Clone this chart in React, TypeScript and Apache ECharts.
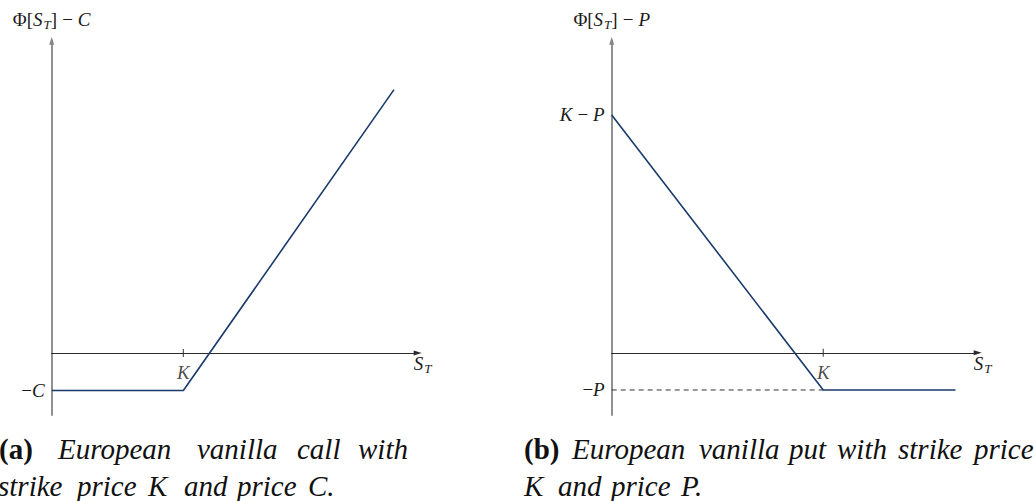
import { useEffect, useRef } from 'react';
import * as echarts from 'echarts';

const SERIF = 'Liberation Serif';
const INK = '#1a1a1a';
const NAVY = '#1b3a6c';

// Left panel: long European call, strike K and premium C
const callXRange = [0, 278];
const callYRange = [-33, 166];
const callStrike = [100];
const callLevels = [-20];
const callLevelLabels = ['{m|−}{i|C}'];
const callPayoff = [
  [0, -20],
  [100, -20],
  [260, 140],
];

// Right panel: long European put, strike K and premium P
const putXRange = [0, 173];
const putYRange = [-22.6, 113.5];
const putStrike = [100];
const putLevels = [86.5, -13.5];
const putLevelLabels = ['{i|K}{op|−}{i|P}', '{m|−}{i|P}'];
const putPayoff = [
  [0, 86.5],
  [100, -13.5],
  [162.5, -13.5],
];
const putPremiumGuide = [
  [0, -13.5],
  [100, -13.5],
];

const MATH_SIZE = 19;
const mathRich = {
  m: { fontFamily: SERIF, fontSize: MATH_SIZE, lineHeight: 22, color: INK },
  op: {
    fontFamily: SERIF,
    fontSize: MATH_SIZE,
    lineHeight: 22,
    color: INK,
    padding: [0, 5, 0, 5],
  },
  i: {
    fontFamily: SERIF,
    fontSize: MATH_SIZE,
    fontStyle: 'italic',
    lineHeight: 22,
    color: INK,
  },
  s: {
    fontFamily: SERIF,
    fontSize: 13,
    fontStyle: 'italic',
    lineHeight: 12,
    verticalAlign: 'bottom',
    color: INK,
    padding: [0, 0, 0, 1],
  },
};
const mathText = { fontFamily: SERIF, fontSize: MATH_SIZE, color: INK, rich: mathRich };

// caption words: [text, left x, row, bold]
const captionWords: [string, number, number, boolean][] = [
  ['(a)', -1, 0, true],
  ['European', 58, 0, false],
  ['vanilla', 197, 0, false],
  ['call', 297, 0, false],
  ['with', 358, 0, false],
  ['strike', -2, 1, false],
  ['price', 77, 1, false],
  ['K', 148, 1, false],
  ['and', 184, 1, false],
  ['price', 237, 1, false],
  ['C.', 308, 1, false],
  ['(b)', 524, 0, true],
  ['European', 572, 0, false],
  ['vanilla', 699, 0, false],
  ['put', 789, 0, false],
  ['with', 837, 0, false],
  ['strike', 898, 0, false],
  ['price', 974, 0, false],
  ['K', 524, 1, false],
  ['and', 558, 1, false],
  ['price', 611, 1, false],
  ['P.', 681, 1, false],
];
const captionRows = [449, 486];

const GRID_W = 366;
const GRID_TOP = 40.7;
const GRID_H = 374.3;

function xAxisOf(gridIndex: number, range: number[]) {
  return {
    type: 'value',
    gridIndex,
    min: range[0],
    max: range[1],
    axisLine: {
      onZero: true,
      symbol: ['none', 'triangle'],
      symbolSize: [5, 8],
      lineStyle: { color: '#2b2b2b', width: 1.2 },
    },
    axisTick: { show: false },
    splitLine: { show: false },
    axisLabel: { show: false },
    name: '{i|S}{s|T}',
    nameLocation: 'end',
    nameGap: 5,
    nameTextStyle: { ...mathText, align: 'center', verticalAlign: 'top' },
  };
}

function yAxisOf(
  gridIndex: number,
  range: number[],
  levels: number[],
  labels: string[],
  title: string
) {
  return {
    type: 'value',
    gridIndex,
    min: range[0],
    max: range[1],
    axisLine: {
      onZero: true,
      symbol: ['none', 'triangle'],
      symbolSize: [5, 8],
      lineStyle: { color: '#858585', width: 1.8 },
    },
    axisTick: { show: false },
    splitLine: { show: false },
    axisLabel: {
      ...mathText,
      customValues: levels,
      formatter: (v: number) => labels[levels.indexOf(v)] ?? '',
      margin: 7,
    },
    name: title,
    nameLocation: 'end',
    nameGap: 10,
    nameTextStyle: { ...mathText, align: 'center', verticalAlign: 'bottom' },
  };
}

// small tick across the S_T axis at the strike, labelled K underneath
function strikeTick(axisIndex: number, strike: number[]) {
  return {
    type: 'scatter',
    xAxisIndex: axisIndex,
    yAxisIndex: axisIndex,
    symbol: 'rect',
    symbolSize: [1.2, 8],
    itemStyle: { color: '#2b2b2b' },
    silent: true,
    data: strike.map((k) => [k, 0]),
    label: {
      show: true,
      position: 'bottom',
      distance: 6,
      formatter: 'K',
      fontFamily: SERIF,
      fontStyle: 'italic',
      fontSize: MATH_SIZE,
      color: INK,
    },
    z: 3,
  };
}

export default function App() {
  const ref = useRef<HTMLDivElement>(null);

  useEffect(() => {
    if (!ref.current) return;
    const chart = echarts.init(ref.current, null, { renderer: 'svg' });

    const graphic = captionWords.map(([text, x, row, bold]) => ({
      type: 'text',
      x,
      y: captionRows[row],
      style: {
        text,
        fill: '#111',
        fontFamily: SERIF,
        fontSize: 29,
        fontStyle: bold ? 'normal' : 'italic',
        fontWeight: bold ? 'bold' : 'normal',
        verticalAlign: 'middle',
        align: 'left',
      },
    }));

    chart.setOption({
      animation: false,
      backgroundColor: '#ffffff',
      textStyle: { fontFamily: SERIF },
      grid: [
        { left: 51.7, top: GRID_TOP, width: GRID_W, height: GRID_H },
        { left: 611.7, top: GRID_TOP, width: GRID_W, height: GRID_H },
      ],
      xAxis: [xAxisOf(0, callXRange), xAxisOf(1, putXRange)],
      yAxis: [
        yAxisOf(0, callYRange, callLevels, callLevelLabels, '{m|Φ[}{i|S}{s|T}{m|]}{op|−}{i|C}'),
        yAxisOf(1, putYRange, putLevels, putLevelLabels, '{m|Φ[}{i|S}{s|T}{m|]}{op|−}{i|P}'),
      ],
      series: [
        {
          type: 'line',
          xAxisIndex: 0,
          yAxisIndex: 0,
          data: callPayoff,
          showSymbol: false,
          symbol: 'none',
          lineStyle: { color: NAVY, width: 1.6 },
          z: 4,
        },
        strikeTick(0, callStrike),
        {
          type: 'line',
          xAxisIndex: 1,
          yAxisIndex: 1,
          data: putPremiumGuide,
          showSymbol: false,
          symbol: 'none',
          lineStyle: { color: '#333', width: 1, type: [5, 4] },
          z: 2,
        },
        {
          type: 'line',
          xAxisIndex: 1,
          yAxisIndex: 1,
          data: putPayoff,
          showSymbol: false,
          symbol: 'none',
          lineStyle: { color: NAVY, width: 1.6 },
          z: 4,
        },
        strikeTick(1, putStrike),
      ],
      graphic,
    });

    return () => chart.dispose();
  }, []);

  return (
    <div
      ref={ref}
      style={{
        position: 'absolute',
        left: 0,
        top: 0,
        width: 1035,
        height: 501,
        background: '#fff',
      }}
    />
  );
}
